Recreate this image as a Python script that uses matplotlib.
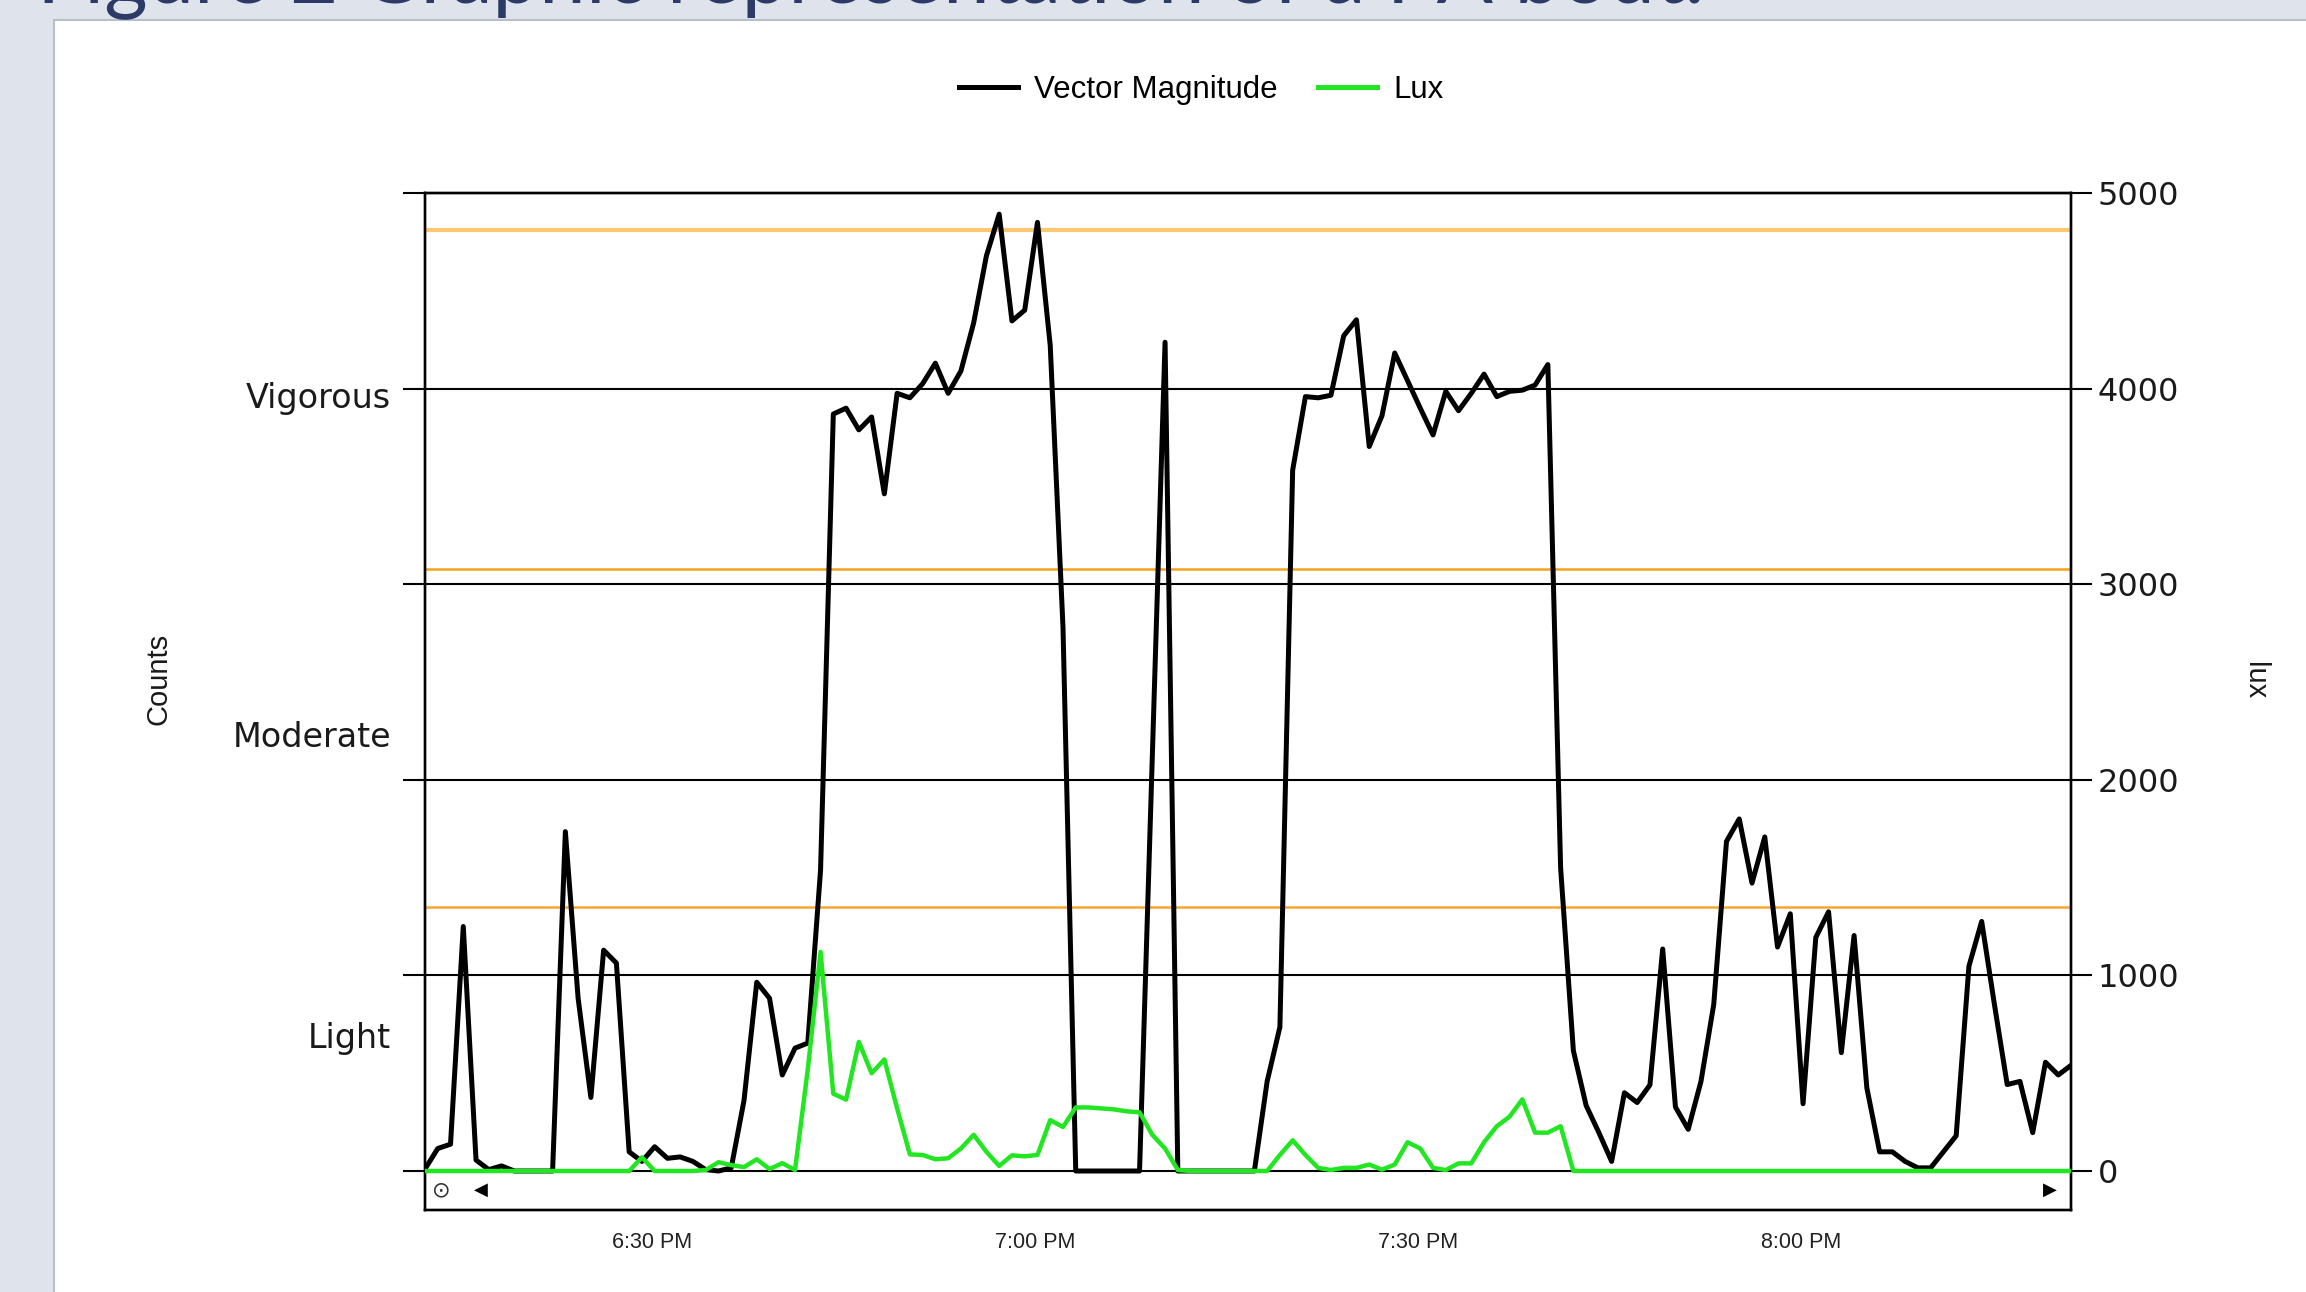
import matplotlib
matplotlib.use("Agg")
import matplotlib.pyplot as plt
from matplotlib.lines import Line2D
from matplotlib.patches import Rectangle
import pandas as pd

# one value per 1-minute epoch, starting 18:12:10
vector_magnitude = [
    10, 115, 137, 1250, 56, 7, 26, 0, 0, 0,
    0, 1735, 883, 376, 1129, 1063, 98, 49, 124, 65,
    72, 49, 7, 0, 16, 360, 965, 883, 491, 628,
    654, 1538, 3870, 3900, 3789, 3855, 3462, 3976, 3953, 4025,
    4130, 3976, 4090, 4336, 4679, 4892, 4346, 4401, 4850, 4221,
    2781, 0, 0, 0, 0, 0, 0, 2120, 4237, 0,
    0, 0, 0, 0, 0, 0, 458, 736, 3583, 3959,
    3953, 3966, 4270, 4352, 3704, 3861, 4182, 4041, 3900, 3763,
    3986, 3887, 3976, 4074, 3959, 3986, 3992, 4018, 4123, 1550,
    615, 335, 196, 49, 400, 350, 440, 1135, 327, 213,
    458, 851, 1685, 1800, 1472, 1708, 1145, 1315, 344, 1194,
    1325, 605, 1204, 425, 98, 98, 49, 16, 16, 98,
    180, 1047, 1276, 851, 442, 458, 196, 556, 491, 540,
]
lux = [
    0, 0, 0, 0, 0, 0, 0, 0, 0, 0,
    0, 0, 0, 0, 0, 0, 0, 70, 0, 0,
    0, 0, 5, 45, 30, 20, 60, 10, 40, 5,
    520, 1120, 395, 365, 660, 500, 570, 320, 85, 82,
    60, 65, 115, 185, 98, 26, 80, 75, 82, 260,
    225, 325, 325, 320, 315, 305, 300, 185, 115, 5,
    0, 0, 0, 0, 0, 0, 0, 82, 157, 82,
    16, 5, 16, 16, 33, 7, 33, 147, 115, 16,
    5, 39, 39, 147, 229, 278, 366, 196, 196, 229,
    0, 0, 0, 0, 0, 0, 0, 0, 0, 0,
    0, 0, 0, 0, 0, 0, 0, 0, 0, 0,
    0, 0, 0, 0, 0, 0, 0, 0, 0, 0,
    0, 0, 0, 0, 0, 0, 0, 0, 0, 0,
]
start_time = "2015-06-01 18:12:10"
count_ticks = [0, 1000, 2000, 3000, 4000, 5000]
intensity_levels = ["Light", "Moderate", "Vigorous"]
intensity_label_y = [677, 2218, 3950]
thresholds = [1350, 3077, 4811]
threshold_colors = ["#f7a730", "#f5a31c", "#fdc872"]
threshold_widths = [1.8, 1.8, 3.0]
time_ticks = ["2015-06-01 18:30", "2015-06-01 19:00", "2015-06-01 19:30", "2015-06-01 20:00"]
time_labels = ["6:30 PM", "7:00 PM", "7:30 PM", "8:00 PM"]

times = pd.date_range(start_time, periods=len(vector_magnitude), freq="min").to_pydatetime()
tick_times = pd.to_datetime(time_ticks).to_pydatetime()

W, H = 2306, 1292
fig = plt.figure(figsize=(W / 100, H / 100), dpi=100, facecolor="#dfe3ec")

# slide panel and clipped slide title
fig.patches.append(Rectangle((54 / W, -0.01), 1, 1 - 20 / H + 0.01, transform=fig.transFigure,
                             facecolor="white", edgecolor="#b9bec9", lw=1.5, zorder=-1))
fig.text(37 / W, 1 - 2 / H, "Figure 2 Graphic representation of a PA bout.", family="Lato",
         fontsize=60, color="#2b3a66", ha="left", va="baseline")

ax = fig.add_axes([425 / W, 1 - 1210 / H, (2071 - 425) / W, (1210 - 193) / H])
ybottom = -(1210 - 1171) / (978 / 5000)
ax.set_ylim(ybottom, 5000)
ax.set_xlim(times[0], times[-1])

for val, col, w in zip(thresholds, threshold_colors, threshold_widths):
    ax.axhline(val, color=col, lw=w, zorder=1)

ax.set_yticks(count_ticks)
ax.set_yticklabels([])
ax.yaxis.grid(True, color="black", lw=1.5)
ax.set_axisbelow(True)
ax.tick_params(axis="y", direction="out", length=16, width=1.5, color="black")
for sp in ax.spines.values():
    sp.set_linewidth(1.7)

ax.plot(times, vector_magnitude, color="black", lw=3.6, zorder=3)

ax.set_xticks(tick_times)
ax.set_xticklabels(time_labels, family="Liberation Sans", fontsize=15.5, color="#222222")
ax.tick_params(axis="x", length=0, pad=16)

for lab, yv in zip(intensity_levels, intensity_label_y):
    ax.annotate(lab, xy=(0, yv), xycoords=("axes fraction", "data"), xytext=(-24.5, 0),
                textcoords="offset points", ha="right", va="center", fontsize=24,
                family="DejaVu Sans", color="#1a1a1a")

ax2 = ax.twinx()
ax2.set_ylim(ybottom, 5000)
ax2.set_yticks(count_ticks)
ax2.set_yticklabels([str(t) for t in count_ticks], fontsize=23, family="DejaVu Sans", color="#1a1a1a")
ax2.tick_params(axis="y", direction="out", length=15, width=1.5, pad=4)
for sp in ax2.spines.values():
    sp.set_linewidth(1.7)
ax2.plot(times, lux, color="#22e622", lw=3.2, zorder=3)

# scroll bar glyphs
tr = ax.get_yaxis_transform()
ax.text(0.0097, -97, "\u2299", transform=tr, ha="center", va="center", fontsize=16, color="#333333")
ax.text(0.034, -97, "\u25c0", transform=tr, ha="center", va="center", fontsize=13, color="black")
ax.text(0.987, -97, "\u25b6", transform=tr, ha="center", va="center", fontsize=13, color="black")

fig.text(159 / W, 1 - 679 / H, "Counts", rotation=90, ha="center", va="center",
         family="Liberation Sans", fontsize=21, color="#1a1a1a")
fig.text(2255 / W, 1 - 681 / H, "lux", rotation=-90, ha="center", va="center",
         family="Liberation Sans", fontsize=21, color="#1a1a1a")

handles = [Line2D([], [], color="black", lw=3.6), Line2D([], [], color="#22e622", lw=3.6)]
fig.legend(handles, ["Vector Magnitude", "Lux"], loc="center", bbox_to_anchor=(1201 / W, 1 - 90 / H),
           ncol=2, frameon=False, prop={"family": "Liberation Sans", "size": 22.5},
           handlelength=1.9, handletextpad=0.5, columnspacing=1.3)

fig.savefig("out.png", dpi=100, facecolor=fig.get_facecolor())
